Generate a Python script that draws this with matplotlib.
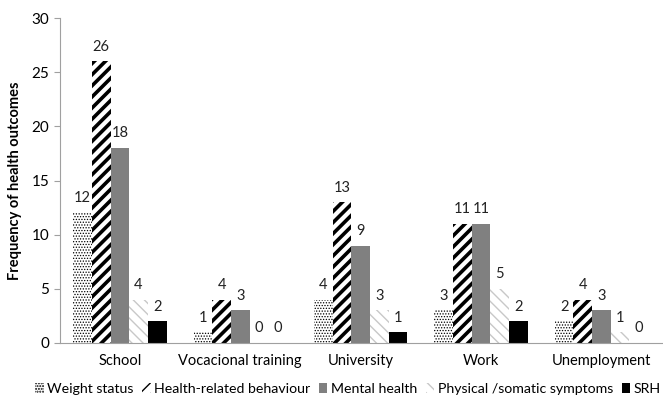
import numpy as np
import matplotlib
matplotlib.use("Agg")
import matplotlib.pyplot as plt

plt.rcParams['font.family'] = ['Lato', 'DejaVu Sans']

categories = ['School', 'Vocacional training', 'University', 'Work', 'Unemployment']
weight_status = [12, 1, 4, 3, 2]
health_behaviour = [26, 4, 13, 11, 4]
mental_health = [18, 3, 9, 11, 3]
physical_somatic = [4, 0, 3, 5, 1]
srh = [2, 0, 1, 2, 0]

series = [
    ('Weight status', weight_status, dict(facecolor='white', edgecolor='black', hatch='......', hlw=0.6)),
    ('Health-related behaviour', health_behaviour, dict(facecolor='white', edgecolor='black', hatch='///', hlw=2.6)),
    ('Mental health', mental_health, dict(facecolor='#808080', edgecolor='#808080', hatch=None, hlw=1)),
    ('Physical /somatic symptoms', physical_somatic, dict(facecolor='white', edgecolor='#c8c8c8', hatch='\\\\\\', hlw=1.0)),
    ('SRH', srh, dict(facecolor='black', edgecolor='black', hatch=None, hlw=1)),
]

fig = plt.figure(figsize=(6.63, 4.03), dpi=100)
ax = fig.add_axes([0.09, 0.149, 0.908, 0.806])

x = np.arange(len(categories))
w = 0.155
for i, (name, vals, st) in enumerate(series):
    off = (i - 2) * w
    bars = ax.bar(x + off, vals, w, facecolor=st['facecolor'], edgecolor=st['edgecolor'],
                  hatch=st['hatch'], linewidth=0, label=name)
    for b in bars:
        try:
            b.set_hatch_linewidth(st['hlw'])
        except AttributeError:
            pass
    for xi, v in zip(x + off, vals):
        ax.text(xi, v + 0.7, str(v), ha='center', va='bottom', fontsize=10.5, color='#222222')

ax.set_xlim(-0.5, len(categories) - 0.5)
ax.set_ylim(0, 30)
ax.set_yticks(range(0, 31, 5))
ax.set_xticks(x)
ax.set_xticklabels(categories, fontsize=10.5)
ax.tick_params(axis='x', length=0, pad=8)
ax.tick_params(axis='y', length=4, color='#a0a0a0', labelsize=11)
ax.set_ylabel('Frequency of health outcomes', fontsize=10.5, fontweight='bold', labelpad=7)
for s in ['top', 'right']:
    ax.spines[s].set_visible(False)
ax.spines['left'].set_color('#a0a0a0')
ax.spines['bottom'].set_color('#a0a0a0')

handles, labels = ax.get_legend_handles_labels()
fig.legend(handles, labels, loc='center', bbox_to_anchor=(0.525, 0.035), ncol=5, frameon=False,
           fontsize=10.2, handlelength=0.6, handleheight=0.7, handletextpad=0.25,
           columnspacing=0.6, borderpad=0)

fig.savefig('out.png', dpi=100)
